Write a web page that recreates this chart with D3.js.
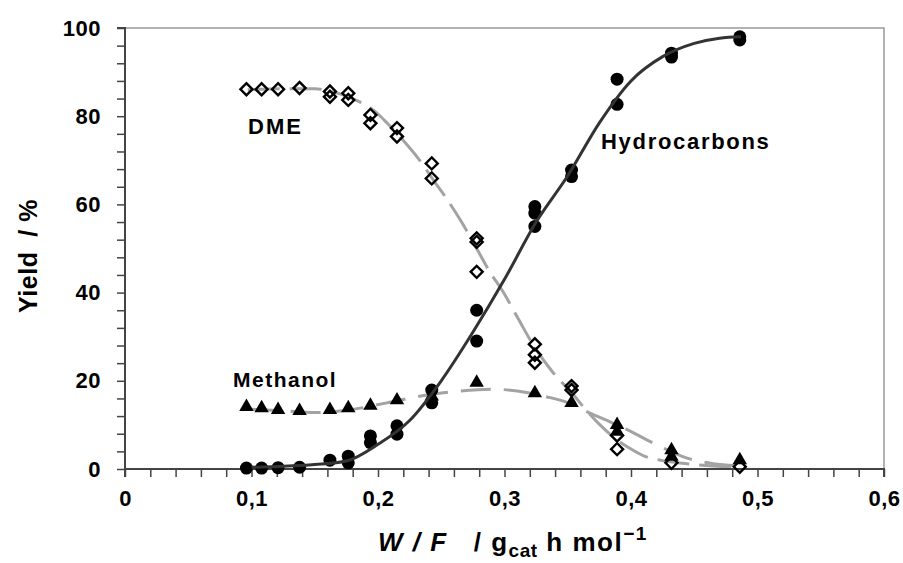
<!DOCTYPE html>
<html>
<head>
<meta charset="utf-8">
<script src="https://cdn.jsdelivr.net/npm/d3@7"></script>
<style>
  body { margin: 0; background: #fff; }
  svg text { font-family: "Liberation Sans", Arial, sans-serif; font-weight: bold; fill: #000; }
</style>
</head>
<body>
<div class="chart"></div>
<script>
// measured points (W/F in g_cat h/mol, yield in %)
var hcX = [0.096, 0.108, 0.121, 0.138, 0.162, 0.1765, 0.1765, 0.194, 0.194, 0.215, 0.215, 0.2425, 0.2425,
           0.278, 0.278, 0.324, 0.324, 0.324, 0.353, 0.353, 0.389, 0.389, 0.432, 0.432, 0.486, 0.486];
var hcY = [0.2, 0.2, 0.3, 0.4, 2.0, 2.9, 1.4, 7.5, 6.0, 9.8, 7.9, 17.9, 15.0,
           36, 29, 59.5, 58, 55, 67.8, 66.3, 88.4, 82.7, 94.3, 93.4, 98, 97.3];

var dmeX = [0.096, 0.108, 0.121, 0.138, 0.162, 0.162, 0.1765, 0.1765, 0.194, 0.194, 0.215, 0.215, 0.2425, 0.2425,
            0.278, 0.278, 0.278, 0.324, 0.324, 0.324, 0.353, 0.353, 0.389, 0.389, 0.432, 0.486];
var dmeY = [86.1, 86.1, 86.1, 86.4, 85.6, 84.4, 85.2, 83.7, 80.3, 78.4, 77.3, 75.4, 69.3, 65.9,
            52.3, 51.5, 44.7, 28.3, 25.9, 24.1, 18.8, 17.9, 7.6, 4.5, 1.4, 0.5];

var meohX = [0.096, 0.108, 0.121, 0.138, 0.162, 0.1765, 0.194, 0.215, 0.2425, 0.278, 0.324, 0.353,
             0.389, 0.389, 0.432, 0.432, 0.486];
var meohY = [14.1, 13.8, 13.4, 13.2, 13.4, 13.8, 14.4, 15.6, 16.5, 19.6, 17.2, 15.0,
             10.0, 8.5, 4.3, 2.8, 2.0];

// fitted curves
var hcFitX = [0.1, 0.125, 0.15, 0.175, 0.2, 0.225, 0.25, 0.275, 0.3, 0.325, 0.35, 0.375, 0.4, 0.425, 0.45, 0.47, 0.487];
var hcFitY = [0.4, 0.6, 1.0, 1.8, 5.6, 11, 20, 31, 43, 56, 66.5, 78.5, 88, 93.5, 96.5, 97.7, 98];

var dmeFitX = [0.097, 0.125, 0.15, 0.165, 0.18, 0.2, 0.207, 0.22, 0.233, 0.245, 0.254, 0.265, 0.278, 0.289,
               0.298, 0.31, 0.323, 0.338, 0.354, 0.365, 0.3755, 0.389, 0.399, 0.41, 0.425, 0.444, 0.465, 0.487];
var dmeFitY = [86, 86.2, 86.2, 85.5, 84, 80.5, 78.5, 74.5, 70, 65, 61.4, 56.5, 50, 44.4,
               40.6, 34.5, 28, 22, 17, 13.2, 10, 6.6, 4.7, 3, 1.9, 1.2, 0.7, 0.5];

var meohFitX = [0.097, 0.125, 0.15, 0.175, 0.207, 0.235, 0.262, 0.289, 0.31, 0.333, 0.354, 0.365, 0.381,
                0.402, 0.4125, 0.43, 0.445, 0.465, 0.487];
var meohFitY = [13.6, 13.2, 12.8, 13.3, 15, 16.6, 17.6, 18.1, 17.7, 16.4, 14.6, 13, 11,
                8.2, 6.6, 4.2, 2.4, 1.2, 0.7];

var xMajor = [0, 0.1, 0.2, 0.3, 0.4, 0.5, 0.6];
var yMajor = [0, 20, 40, 60, 80, 100];

var svg = d3.select(".chart").append("svg").attr("width", 903).attr("height", 563),
    pL = 125, pR = 884, pT = 28, pB = 469,
    x = d3.scaleLinear().domain([0, 0.6]).range([pL, pR]),
    y = d3.scaleLinear().domain([0, 100]).range([pB, pT]);

function zip(xs, ys) { return xs.map((v, i) => [v, ys[i]]); }

// frame (top and right in light grey)
svg.append("path")
    .attr("d", `M${pL},${pT}H${pR}V${pB}`)
    .attr("fill", "none").attr("stroke", "#999").attr("stroke-width", 1.5);

var fmt = d => d === 0 ? "0" : d3.format(".1f")(d).replace(".", ",");

var xAxis = svg.append("g")
    .attr("transform", `translate(0,${pB})`)
    .call(d3.axisBottom(x)
        .tickValues(d3.range(0, 31).map(i => i * 0.02))
        .tickSize(8).tickPadding(13)
        .tickFormat(d => xMajor.some(m => Math.abs(m - d) < 1e-6) ? fmt(d) : ""));

var yAxis = svg.append("g")
    .attr("transform", `translate(${pL},0)`)
    .call(d3.axisLeft(y)
        .tickValues(d3.range(0, 26).map(i => i * 4))
        .tickSize(8).tickPadding(16)
        .tickFormat(d => yMajor.indexOf(d) >= 0 ? d : ""));

[xAxis, yAxis].forEach(a => {
  a.select(".domain").attr("stroke", "#444").attr("stroke-width", 2);
  a.selectAll(".tick line").attr("stroke", "#444").attr("stroke-width", 1.5);
  a.selectAll(".tick text").style("font-size", "22px").style("letter-spacing", "0.5px")
      .attr("font-family", null);
});
yAxis.select(".domain").attr("d", `M-8,${pT}H0V${pB}`);
xAxis.select(".domain").attr("d", `M${pL},8V0H${pR}V8`);

// curves
var line = d3.line().x(d => x(d[0])).y(d => y(d[1])).curve(d3.curveMonotoneX);

svg.append("path").datum(zip(dmeFitX, dmeFitY))
    .attr("d", line).attr("fill", "none")
    .attr("stroke", "#a3a3a3").attr("stroke-width", 3).attr("stroke-dasharray", "32,10");
svg.append("path").datum(zip(meohFitX, meohFitY))
    .attr("d", line).attr("fill", "none")
    .attr("stroke", "#a3a3a3").attr("stroke-width", 3).attr("stroke-dasharray", "30,13");

// markers
svg.selectAll(".tri").data(zip(meohX, meohY)).enter().append("path")
    .attr("class", "tri")
    .attr("transform", d => `translate(${x(d[0])},${y(d[1])})`)
    .attr("d", d3.symbol().type(d3.symbolTriangle).size(90))
    .attr("fill", "#000");

svg.selectAll(".dia").data(zip(dmeX, dmeY)).enter().append("path")
    .attr("class", "dia")
    .attr("transform", d => `translate(${x(d[0])},${y(d[1])}) rotate(45)`)
    .attr("d", d3.symbol().type(d3.symbolSquare).size(72))
    .attr("fill", "none").attr("stroke", "#000").attr("stroke-width", 2.4);

svg.selectAll(".dot").data(zip(hcX, hcY)).enter().append("circle")
    .attr("class", "dot")
    .attr("cx", d => x(d[0])).attr("cy", d => y(d[1])).attr("r", 6.5)
    .attr("fill", "#000");

svg.append("path").datum(zip(hcFitX, hcFitY))
    .attr("d", line).attr("fill", "none")
    .attr("stroke", "#333").attr("stroke-width", 3);

// series labels
svg.append("text").attr("x", 248).attr("y", 134).style("font-size", "22px").style("letter-spacing", "2px").text("DME");
svg.append("text").attr("x", 601).attr("y", 149).style("font-size", "22px").style("letter-spacing", "1.7px").text("Hydrocarbons");
svg.append("text").attr("x", 233).attr("y", 387).style("font-size", "21px").style("letter-spacing", "1.5px").text("Methanol");

// axis titles
svg.append("text")
    .attr("transform", "translate(37,256) rotate(-90)")
    .attr("text-anchor", "middle")
    .style("font-size", "25px").style("letter-spacing", "0.5px").style("white-space", "pre")
    .text("Yield  / %");

var xt = svg.append("text").attr("x", 378).attr("y", 551)
    .style("font-size", "26px").style("letter-spacing", "1.5px").style("white-space", "pre");
xt.append("tspan").style("font-style", "italic").text("W / F");
xt.append("tspan").text("   / g");
xt.append("tspan").attr("dy", 6).style("font-size", "19px").style("letter-spacing", "0.5px").text("cat");
xt.append("tspan").attr("dy", -6).text(" h mol");
xt.append("tspan").attr("dy", -11).style("font-size", "19px").text("\u22121");
</script>
</body>
</html>
